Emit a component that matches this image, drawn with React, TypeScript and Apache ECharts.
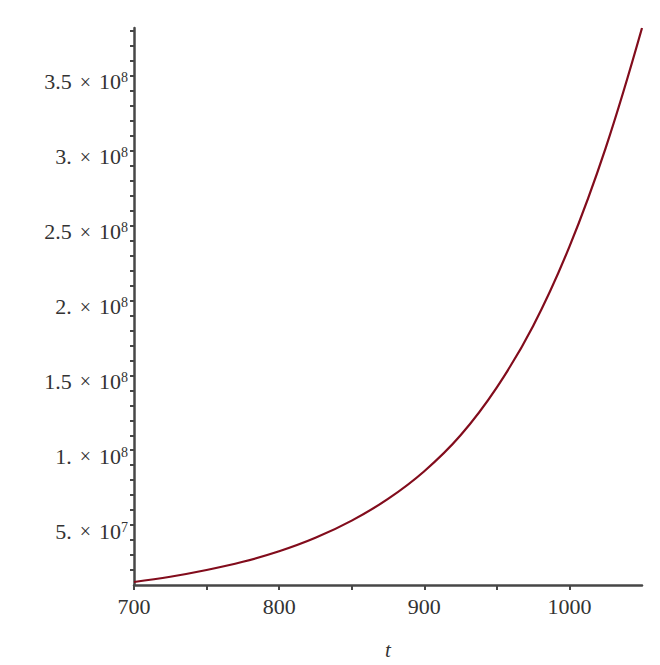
import React, { useEffect, useRef } from "react";
import * as echarts from "echarts";

// x values (t) and curve values
const tValues = [700, 725, 750, 775, 800, 825, 850, 875, 900, 925, 950, 975, 1000, 1025, 1050];
const curveValues = [
  1.2e7, 1.55e7, 2.0e7, 2.55e7, 3.25e7, 4.15e7, 5.3e7, 6.75e7, 8.6e7,
  1.1e8, 1.42e8, 1.83e8, 2.36e8, 3.02e8, 3.82e8,
];

// y tick labels: value, mantissa, exponent
const yTickValues = [5e7, 1e8, 1.5e8, 2e8, 2.5e8, 3e8, 3.5e8];
const yTickMantissas = ["5.", "1.", "1.5", "2.", "2.5", "3.", "3.5"];
const yTickExponents = ["7", "8", "8", "8", "8", "8", "8"];

// x tick labels
const xTickLabels = [700, 800, 900, 1000];

const FONT = "'Liberation Serif', 'DejaVu Serif', serif";
const AXIS_COLOR = "#474747";
const LINE_COLOR = "#820c1c";

export default function App() {
  const ref = useRef<HTMLDivElement>(null);

  useEffect(() => {
    if (!ref.current) return;
    const chart = echarts.init(ref.current, undefined, { renderer: "svg" });
    chart.setOption({
      animation: false,
      backgroundColor: "#ffffff",
      grid: { left: 134, top: 28, width: 508, height: 566, containLabel: false },
      xAxis: {
        type: "value",
        min: 700,
        max: 1050,
        interval: 50,
        name: "t",
        nameLocation: "middle",
        nameGap: 54,
        nameTextStyle: { fontFamily: FONT, fontStyle: "italic", fontSize: 21, color: "#333" },
        axisLine: { show: true, onZero: false, lineStyle: { color: AXIS_COLOR, width: 2.5 } },
        axisTick: { show: true, length: 5, inside: false, lineStyle: { color: AXIS_COLOR, width: 2 } },
        splitLine: { show: false },
        axisLabel: {
          margin: 10,
          fontFamily: FONT,
          fontSize: 22,
          color: "#333",
          showMinLabel: true,
          showMaxLabel: false,
          formatter: (v: number) => (xTickLabels.indexOf(Math.round(v)) >= 0 ? String(Math.round(v)) : ""),
        },
      },
      yAxis: {
        type: "value",
        min: 1e7,
        max: 3.82e8,
        interval: 1e7,
        axisLine: { show: true, onZero: false, lineStyle: { color: AXIS_COLOR, width: 2.5 } },
        axisTick: { show: true, length: 4, inside: false, lineStyle: { color: AXIS_COLOR, width: 2 } },
        splitLine: { show: false },
        axisLabel: {
          margin: 6,
          padding: [12, 0, 0, 0],
          showMaxLabel: false,
          showMinLabel: false,
          formatter: (v: number) => {
            const i = yTickValues.findIndex((y) => Math.abs(y - v) < 1);
            if (i < 0) return "";
            return `{m|${yTickMantissas[i]}}{x|×}{m|10}{s|${yTickExponents[i]}}`;
          },
          rich: {
            m: { fontFamily: FONT, fontSize: 22, color: "#333", lineHeight: 22 },
            x: { fontFamily: FONT, fontSize: 20, color: "#333", lineHeight: 22, padding: [0, 8, 0, 8] },
            s: { fontFamily: FONT, fontSize: 14, color: "#333", lineHeight: 2, verticalAlign: "top" },
          },
        },
      },
      series: [
        {
          type: "line",
          data: tValues.map((t, i) => [t, curveValues[i]]),
          smooth: 0.4,
          showSymbol: false,
          lineStyle: { color: LINE_COLOR, width: 2.2 },
          clip: false,
        },
      ],
    });
    return () => chart.dispose();
  }, []);

  return (
    <div
      ref={ref}
      style={{ position: "fixed", left: 0, top: 0, width: 660, height: 665, background: "#fff" }}
    />
  );
}
